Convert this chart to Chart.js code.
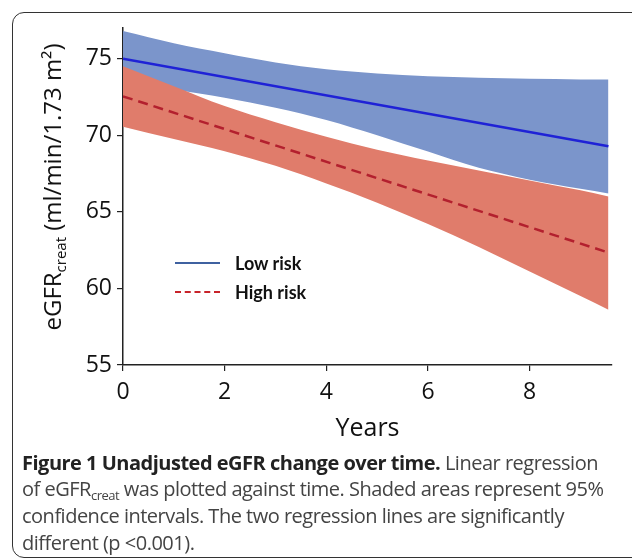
<!DOCTYPE html>
<html>
<head>
<meta charset="utf-8">
<script src="https://cdn.jsdelivr.net/npm/chart.js@4.4.1/dist/chart.umd.min.js"></script>
<style>
  html, body { margin:0; padding:0; background:#fff; }
  body { width:632px; height:560px; position:relative; overflow:hidden; }
  #frame { position:absolute; left:12px; top:12px; width:650px; height:546px; border:1.5px solid #333; border-radius:12px; box-sizing:border-box; }
  #wrap { position:absolute; left:0; top:0; width:632px; height:450px; }
  #ytitle { position:absolute; left:-148px; top:172px; width:400px; height:30px; line-height:30px; text-align:center;
            transform:rotate(-90deg); font-family:"Open Sans", sans-serif; font-size:24px; color:#111; white-space:nowrap; }
  #ytitle sub { font-size:15px; vertical-align:-5px; line-height:0; }
  #legend { position:absolute; left:175px; top:249px; font-family:Lato, sans-serif; font-weight:700; font-size:18px; color:#111; }
  .lg { position:relative; height:28.5px; line-height:28px; }
  .lg .sw { position:absolute; left:0; top:13px; width:45px; height:0; }
  .lg span { position:absolute; left:60px; top:0; white-space:nowrap; }
  #caption { position:absolute; left:22px; top:449.5px; font-family:"Open Sans", sans-serif; font-size:20px; line-height:26.7px; color:#444; white-space:nowrap; letter-spacing:-0.5px; }
  #caption b { color:#222; }
  #caption sub { font-size:13px; vertical-align:-4px; line-height:0; }
</style>
</head>
<body>
<div id="frame"></div>
<div id="wrap"><canvas id="c" width="632" height="450"></canvas></div>
<div id="ytitle">eGFR<sub>creat</sub> (ml/min/1.73 m²)</div>
<div id="legend">
  <div class="lg"><div class="sw" style="border-top:2.5px solid #3f61a0"></div><span>Low risk</span></div>
  <div class="lg"><div class="sw" style="border-top:2.5px dashed #c8232a"></div><span>High risk</span></div>
</div>
<div id="caption"><b>Figure 1 Unadjusted eGFR change over time.</b> Linear regression<br>of eGFR<sub>creat</sub> was plotted against time. Shaded areas represent 95%<br>confidence intervals. The two regression lines are significantly<br>different (p &lt;0.001).</div>
<script>
// ---- data ----
const bandYears     = [0, 1, 2, 3, 4, 5, 6, 7, 8, 9, 9.55];
const lowRiskUpper  = [76.8, 76.0, 75.35, 74.75, 74.3, 74.03, 73.85, 73.75, 73.68, 73.64, 73.63];
const lowRiskLower  = [73.2, 72.95, 72.45, 71.8, 71.0, 70.0, 68.93, 67.87, 67.1, 66.5, 66.2];
const highRiskUpper = [74.5, 73.2, 71.9, 70.85, 69.9, 69.05, 68.35, 67.7, 67.05, 66.4, 66.0];
const highRiskLower = [70.55, 69.75, 68.95, 68.0, 66.85, 65.6, 64.2, 62.7, 61.1, 59.5, 58.6];
const lineYears     = [0, 9.55];
const lowRiskLine   = [75.0, 69.28];
const highRiskLine  = [72.54, 62.34];
const xTicks = [0, 2, 4, 6, 8];
const yTicks = [55, 60, 65, 70, 75];

const pts = (xs, ys) => xs.map((x, i) => ({x, y: ys[i]}));
const blueFill = '#7b95cb';
const redFill = '#e07c6b';

new Chart(document.getElementById('c'), {
  type: 'line',
  data: {
    datasets: [
      { data: pts(bandYears, lowRiskLower), borderWidth: 0, pointRadius: 0, fill: false, order: 4, cubicInterpolationMode: 'monotone' },
      { data: pts(bandYears, lowRiskUpper), borderWidth: 0, pointRadius: 0, fill: 0, backgroundColor: blueFill, order: 4, cubicInterpolationMode: 'monotone' },
      { data: pts(bandYears, highRiskLower), borderWidth: 0, pointRadius: 0, fill: false, order: 3, cubicInterpolationMode: 'monotone' },
      { data: pts(bandYears, highRiskUpper), borderWidth: 0, pointRadius: 0, fill: 2, backgroundColor: redFill, order: 3, cubicInterpolationMode: 'monotone' },
      { data: pts(lineYears, lowRiskLine), borderColor: '#1f22d6', borderWidth: 2.5, pointRadius: 0, fill: false, order: 2 },
      { data: pts(lineYears, highRiskLine), borderColor: '#b3202e', borderWidth: 2.5, borderDash: [10, 6], pointRadius: 0, fill: false, order: 1 }
    ]
  },
  options: {
    animation: false,
    responsive: false,
    devicePixelRatio: 1,
    layout: { padding: { top: 28, right: 20, left: 0, bottom: 0 } },
    plugins: { legend: { display: false }, tooltip: { enabled: false } },
    scales: {
      x: {
        type: 'linear', min: 0, max: 9.62,
        afterBuildTicks: s => { s.ticks = xTicks.map(v => ({value: v})); },
        afterFit: s => { s.height = 85; },
        grid: { display: true, drawOnChartArea: false, drawTicks: true, tickLength: 6, color: '#222', lineWidth: 1.2 },
        border: { display: true, color: '#222', width: 1.5 },
        ticks: { color: '#111', font: { family: 'Open Sans', size: 23 }, padding: 8, maxRotation: 0 },
        title: { display: true, text: 'Years', color: '#111', font: { family: 'Open Sans', size: 25 }, padding: { top: 0, bottom: 6 } }
      },
      y: {
        type: 'linear', min: 55, max: 77,
        afterBuildTicks: s => { s.ticks = yTicks.map(v => ({value: v})); },
        afterFit: s => { s.width = 123; },
        grid: { display: true, drawOnChartArea: false, drawTicks: true, tickLength: 6, color: '#222', lineWidth: 1.2 },
        border: { display: true, color: '#222', width: 1.5 },
        ticks: { color: '#111', font: { family: 'Open Sans', size: 23 }, padding: 5 }
      }
    }
  }
});
</script>
</body>
</html>
